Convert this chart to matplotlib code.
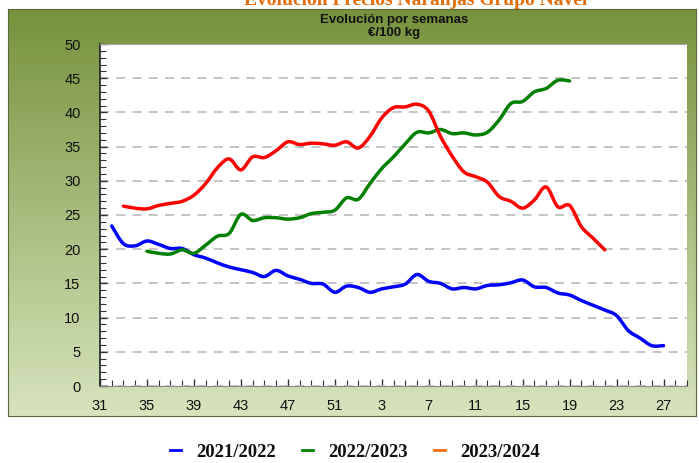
import numpy as np
import matplotlib
matplotlib.use("Agg")
import matplotlib.pyplot as plt
from matplotlib.lines import Line2D
from matplotlib.path import Path
from matplotlib.patches import PathPatch

# ---------------- data ----------------
tick_labels = ["31", "35", "39", "43", "47", "51", "3", "7", "11", "15", "19", "23", "27"]

x_2122 = list(range(1, 49))
v_2122 = [23.4, 20.8, 20.5, 21.2, 20.7, 20.1, 20.1, 19.2, 18.7, 18.0,
          17.4, 17.0, 16.6, 16.0, 16.9, 16.1, 15.6, 15.0, 14.9, 13.7,
          14.6, 14.4, 13.7, 14.2, 14.5, 14.9, 16.3, 15.3, 15.0, 14.2,
          14.4, 14.2, 14.7, 14.8, 15.1, 15.5, 14.5, 14.4, 13.6, 13.3,
          12.5, 11.8, 11.1, 10.3, 8.1, 7.0, 5.9, 5.9]

x_2223 = list(range(4, 41))
v_2223 = [19.7, 19.4, 19.3, 19.9, 19.4, 20.6, 21.9, 22.3, 25.1, 24.2,
          24.6, 24.6, 24.4, 24.6, 25.2, 25.4, 25.7, 27.5, 27.3, 29.6,
          31.8, 33.5, 35.4, 37.1, 37.0, 37.5, 36.9, 37.0, 36.7, 37.1,
          38.9, 41.3, 41.6, 43.0, 43.5, 44.7, 44.6]

x_2324 = list(range(2, 44))
v_2324 = [26.3, 26.0, 25.9, 26.4, 26.7, 27.0, 27.9, 29.6, 31.9, 33.2,
          31.6, 33.5, 33.4, 34.4, 35.7, 35.3, 35.5, 35.4, 35.2, 35.7,
          34.8, 36.5, 39.2, 40.7, 40.8, 41.2, 40.2, 36.5, 33.6, 31.3,
          30.6, 29.8, 27.7, 27.0, 26.0, 27.2, 29.1, 26.2, 26.4, 23.3,
          21.6, 19.9]

series_names = ["2021/2022", "2022/2023", "2023/2024"]
line_colors = ["#0000FF", "#008000", "#FF0000"]
legend_colors = ["#0000FF", "#008000", "#FF6A00"]


def smooth_path(xs, ys):
    """Excel-like smoothed line: cubic Bezier segments through the data points."""
    p = np.column_stack([xs, ys]).astype(float)
    n = len(p)
    verts = [p[0]]
    codes = [Path.MOVETO]
    for i in range(n - 1):
        p0 = p[i - 1] if i > 0 else p[i]
        p1 = p[i]
        p2 = p[i + 1]
        p3 = p[i + 2] if i + 2 < n else p[i + 1]
        c1 = p1 + (p2 - p0) / 6.0
        c2 = p2 - (p3 - p1) / 6.0
        verts += [c1, c2, p2]
        codes += [Path.CURVE4] * 3
    return Path(verts, codes)


# ---------------- figure ----------------
W, H = 699, 463
fig = plt.figure(figsize=(W / 100, H / 100), dpi=100)
fig.patch.set_facecolor("white")

def fr(x0, y0, x1, y1):
    return [x0 / W, 1 - y1 / H, (x1 - x0) / W, (y1 - y0) / H]

# gradient background box
bg = fig.add_axes(fr(8, 9, 696, 416), zorder=0)
top = np.array([0x76, 0x92, 0x3C]) / 255.0
bot = np.array([0xD7, 0xE4, 0xBD]) / 255.0
t = np.linspace(0, 1, 256)[:, None]
grad = top[None, :] * (1 - t) + bot[None, :] * t
grad = np.repeat(grad[:, None, :], 2, axis=1)
bg.imshow(grad, aspect="auto", extent=[0, 1, 0, 1], origin="upper")
bg.set_xticks([]); bg.set_yticks([])
for s in bg.spines.values():
    s.set_color("#5A6B3A"); s.set_linewidth(0.8)

# cut-off orange page title (as in the reference)
fig.text(416 / W, 1 - 0.5 / H, "Evolución Precios Naranjas Grupo Navel", ha="center", va="center",
         fontsize=14, fontweight="bold", family="Liberation Serif", color="#E46C0A")

# inner chart titles
fig.text(394 / W, 1 - 20 / H, "Evolución por semanas", ha="center", va="center",
         fontsize=9.5, fontweight="bold", family="Liberation Sans", color="#111111")
fig.text(394 / W, 1 - 33 / H, "€/100 kg", ha="center", va="center",
         fontsize=9.5, fontweight="bold", family="Liberation Sans", color="#111111")

ax = fig.add_axes(fr(100, 44, 687, 386), zorder=2)
ax.set_facecolor("white")

for xs, vs, c in zip([x_2122, x_2223, x_2324], [v_2122, v_2223, v_2324], line_colors):
    patch = PathPatch(smooth_path(xs, vs), facecolor="none", edgecolor=c, lw=2.5,
                      capstyle="round", joinstyle="round", zorder=3)
    ax.add_patch(patch)

ax.set_xlim(0, 50)
ax.set_ylim(0, 50)
ax.set_yticks(np.arange(0, 51, 5))
ax.set_yticks(np.arange(0, 51, 1), minor=True)
ax.set_xticks(np.arange(0, 49, 4))
ax.set_xticklabels(tick_labels)
ax.set_xticks(np.arange(0, 51, 1), minor=True)

ax.yaxis.grid(True, which="major", color="#BFBFBF", linestyle=(0, (5, 4)), lw=1.3)
ax.set_axisbelow(True)

ax.tick_params(axis="both", which="both", direction="in", color="#333333")
ax.tick_params(axis="both", which="major", length=5, width=1, labelsize=10.5)
ax.tick_params(axis="both", which="minor", length=4, width=0.8)
ax.tick_params(axis="y", which="major", pad=14)
ax.tick_params(axis="x", which="major", pad=9)
for lab in ax.get_xticklabels() + ax.get_yticklabels():
    lab.set_family("Liberation Sans")
    lab.set_color("#111111")

ax.spines["left"].set_color("#222222")
ax.spines["bottom"].set_color("#888888")
ax.spines["left"].set_linewidth(1.2)
ax.spines["top"].set_color("#A6A6A6")
ax.spines["right"].set_visible(False)

handles = [Line2D([0], [0], color=c, lw=2) for c in legend_colors]
leg = fig.legend(handles, series_names, loc="center", bbox_to_anchor=(355 / W, 1 - 452 / H),
                 ncol=3, frameon=False, handlelength=0.6, handletextpad=0.8, columnspacing=1.4,
                 borderpad=0.1,
                 prop={"family": "Liberation Serif", "weight": "bold", "size": 13.5})
for txt in leg.get_texts():
    txt.set_color("#111111")

fig.savefig("out.png", dpi=100, facecolor="white")
